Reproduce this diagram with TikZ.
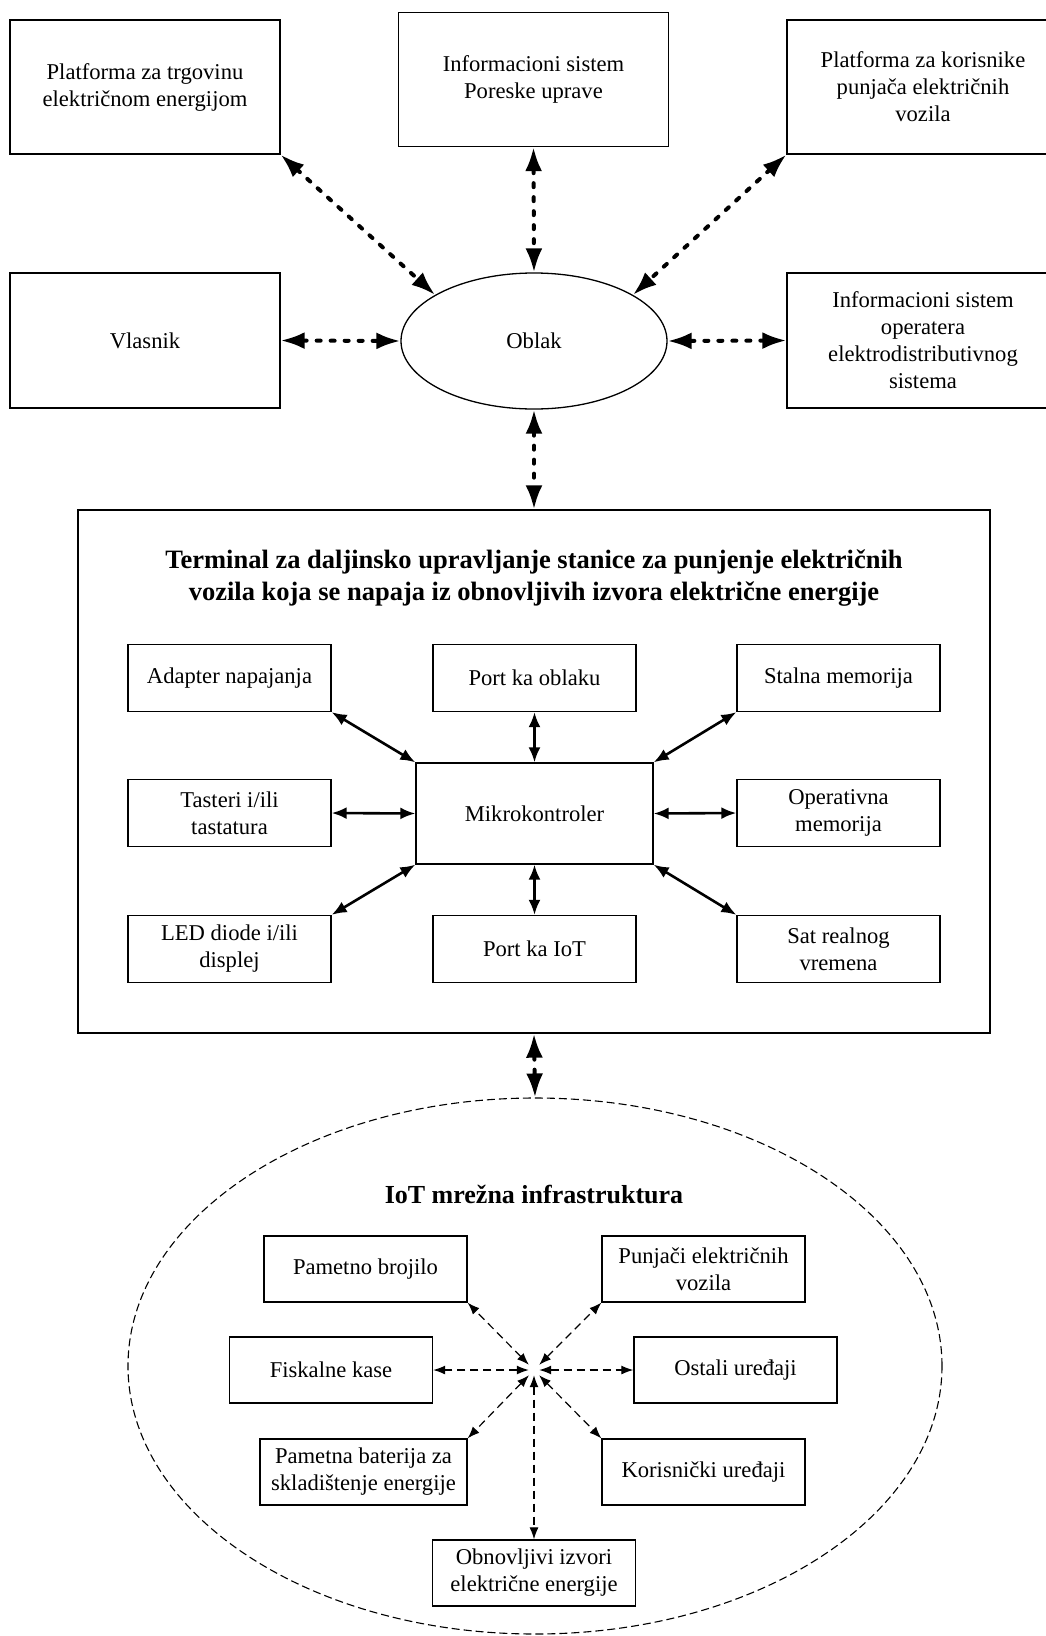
\documentclass[tikz,border=0pt]{standalone}
\usepackage{fontspec}
\setmainfont{Liberation Serif}
\usetikzlibrary{arrows.meta, shapes.geometric}

\begin{document}
\begin{tikzpicture}[x=1pt, y=-1pt,
  every node/.style={font=\fontsize{22.6}{27}\selectfont},
  outbox/.style={draw, line width=1.3pt, minimum width=270pt, minimum height=134pt, align=center},
  inbox/.style={draw, line width=1.3pt, minimum width=203pt, minimum height=67pt, align=center},
  bigarrow/.style={{Latex[length=24pt,width=17pt]}-{Latex[length=24pt,width=17pt]}, line width=4pt, dash pattern=on 4pt off 10pt, line cap=round},
  midarrow/.style={{Latex[length=15pt,width=12pt]}-{Latex[length=15pt,width=12pt]}, line width=2.6pt},
  iotarrow/.style={{Latex[length=12pt,width=9pt]}-{Latex[length=12pt,width=9pt]}, line width=1.2pt, dash pattern=on 8pt off 5pt}]

\useasboundingbox (0,0) rectangle (1046,1636);

% Outer systems
\node[outbox] (trgovina) at (145,87) {Platforma za trgovinu\\električnom energijom};
\node[outbox] (poreska) at (533.5,79.5) {Informacioni sistem\\Poreske uprave};
\node[outbox, minimum width=272pt] (korisnici) at (923,87) {Platforma za korisnike\\punjača električnih\\vozila};
\node[outbox, minimum height=135pt] (vlasnik) at (145,340.5) {Vlasnik};
\node[outbox, minimum width=272pt, minimum height=135pt] (operater) at (923,340.5) {Informacioni sistem\\operatera\\elektrodistributivnog\\sistema};

% Cloud
\node[draw, ellipse, line width=1.3pt, minimum width=266pt, minimum height=136pt] (oblak) at (534,341) {Oblak};

\draw[bigarrow] (trgovina.south east) -- (oblak.155);
\draw[bigarrow] (poreska.south) -- (oblak.north);
\draw[bigarrow] (korisnici.south west) -- (oblak.25);
\draw[bigarrow] (vlasnik.east) -- (oblak.west);
\draw[bigarrow] (operater.west) -- (oblak.east);

% Terminal
\node[draw, line width=1.3pt, minimum width=912pt, minimum height=523pt] (terminal) at (534,771.5) {};
\node[font=\bfseries\fontsize{26.5}{32}\selectfont, align=center] (naslov) at (534,578) {Terminal za daljinsko upravljanje stanice za punjenje električnih\\vozila koja se napaja iz obnovljivih izvora električne energije};

\draw[bigarrow] (oblak.south) -- (terminal.north);

\node[inbox, minimum width=237pt, minimum height=101pt] (mikro) at (534.5,813.5) {Mikrokontroler};
\node[inbox] (adapter) at (229.5,678) {Adapter napajanja};
\node[inbox] (portoblak) at (534.5,678) {Port ka oblaku};
\node[inbox] (stalna) at (838.5,678) {Stalna memorija};
\node[inbox] (tasteri) at (229.5,813) {Tasteri i/ili\\tastatura};
\node[inbox] (operativna) at (838.5,813) {Operativna\\memorija};
\node[inbox] (led) at (229.5,949) {LED diode i/ili\\displej};
\node[inbox] (portiot) at (534.5,949) {Port ka IoT};
\node[inbox] (sat) at (838.5,949) {Sat realnog\\vremena};

\draw[midarrow] (adapter.south east) -- (mikro.north west);
\draw[midarrow] (portoblak.south) -- (mikro.north);
\draw[midarrow] (stalna.south west) -- (mikro.north east);
\draw[midarrow] (tasteri.east) -- (mikro.west);
\draw[midarrow] (operativna.west) -- (mikro.east);
\draw[midarrow] (led.north east) -- (mikro.south west);
\draw[midarrow] (portiot.north) -- (mikro.south);
\draw[midarrow] (sat.north west) -- (mikro.south east);

% IoT network
\node[draw, ellipse, line width=1.1pt, dash pattern=on 8pt off 4pt, minimum width=814pt, minimum height=536pt] (iot) at (535,1366) {};
\node[font=\bfseries\fontsize{26}{30}\selectfont] (iotnaslov) at (534,1194) {IoT mrežna infrastruktura};

\draw[bigarrow] (terminal.south) -- (iot.north);

\node[minimum size=10pt, inner sep=0pt] (hub) at (534,1370) {};

\node[inbox, minimum height=66pt] (brojilo) at (365.5,1269) {Pametno brojilo};
\node[inbox, minimum height=66pt] (punjaci) at (703.5,1269) {Punjači električnih\\vozila};
\node[inbox, minimum height=66pt] (kase) at (331,1370) {Fiskalne kase};
\node[inbox, minimum height=66pt] (ostali) at (735.5,1370) {Ostali uređaji};
\node[inbox, minimum width=207pt, minimum height=66pt] (baterija) at (363.5,1472) {Pametna baterija za\\skladištenje energije};
\node[inbox, minimum height=66pt] (korisnicki) at (703.5,1472) {Korisnički uređaji};
\node[inbox, minimum height=66pt] (obnovljivi) at (534,1573) {Obnovljivi izvori\\električne energije};

\draw[iotarrow] (hub) -- (brojilo.south east);
\draw[iotarrow] (hub) -- (punjaci.south west);
\draw[iotarrow] (hub) -- (kase.east);
\draw[iotarrow] (hub) -- (ostali.west);
\draw[iotarrow] (hub) -- (baterija.north east);
\draw[iotarrow] (hub) -- (korisnicki.north west);
\draw[iotarrow] (hub) -- (obnovljivi.north);

\end{tikzpicture}
\end{document}
